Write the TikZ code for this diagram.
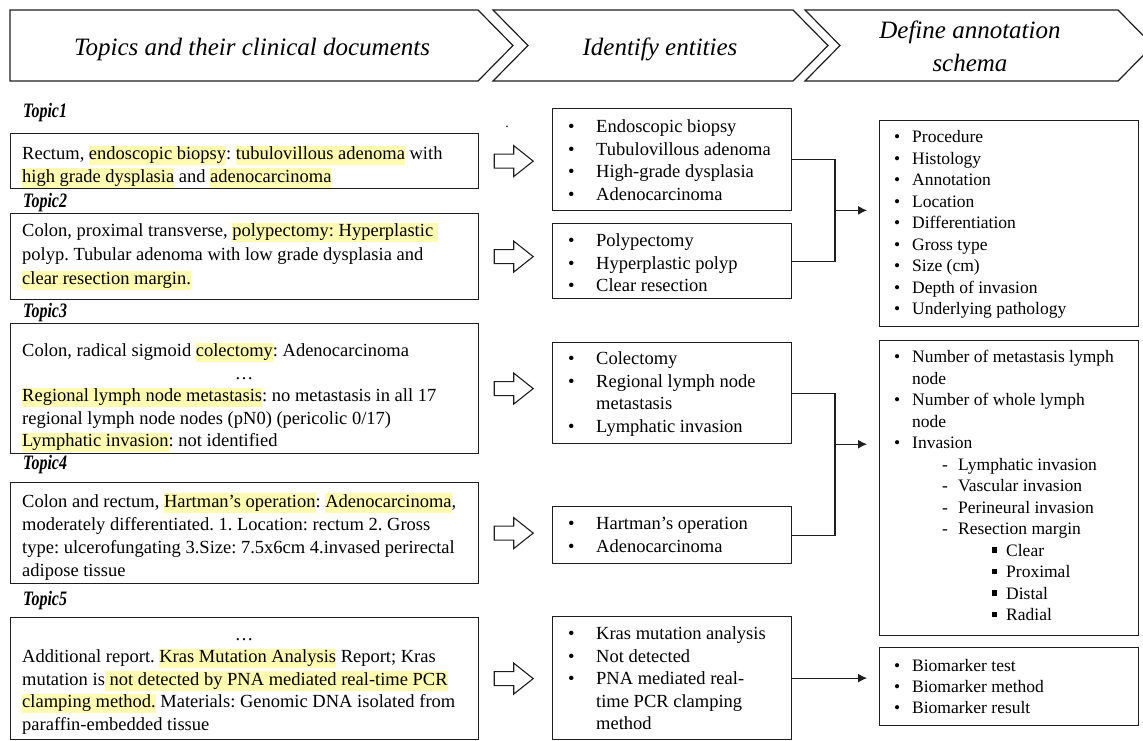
\documentclass[tikz,border=0pt]{standalone}
\usepackage{fontspec}
\setmainfont{Liberation Serif}
\usepackage{graphicx}
\usetikzlibrary{arrows.meta,calc}
\frenchspacing

\definecolor{hly}{RGB}{255,251,176}
\definecolor{ink}{RGB}{30,30,30}

% yellow marker behind annotated phrases
\newcommand{\hlt}[1]{{\setlength{\fboxsep}{0pt}\colorbox{hly}{\rule[-0.3em]{0pt}{1.05em}#1}}}
% condensed bold-italic topic captions
\newcommand{\topiclabel}[1]{\scalebox{0.78}[1]{\bfseries\itshape #1}}
% list markers
\newcommand{\midbullet}{\makebox[28pt][l]{\textbullet}}
\newcommand{\schbullet}{\makebox[18pt][l]{\textbullet}}
\newcommand{\schdash}{\hspace*{48pt}\makebox[16pt][l]{-}}
\newcommand{\schsquare}{\hspace*{98pt}\makebox[14pt][l]{\raisebox{0.2em}{\rule{0.3em}{0.3em}}}}

\begin{document}
\begin{tikzpicture}[x=1pt,y=-1pt,
  boxline/.style={draw=ink, line width=1.2pt},
  box/.style={boxline, anchor=north west, inner sep=0pt},
  doctext/.style={anchor=north west, inner sep=0pt, align=left,
                  font=\fontsize{18.5}{#1}\selectfont},
  doctext/.default=22.5,
  enttext/.style={anchor=north west, inner sep=0pt, align=left,
                  font=\fontsize{18.5}{22.5}\selectfont},
  schtext/.style={anchor=north west, inner sep=0pt, align=left,
                  font=\fontsize{17.5}{#1}\selectfont},
  schtext/.default=21.5,
  topic/.style={anchor=base west, inner sep=0pt, font=\fontsize{20.5}{24}\selectfont},
  headtext/.style={inner sep=0pt, font=\fontsize{25}{33}\selectfont\itshape},
  conn/.style={draw=ink, line width=1.2pt},
  arr/.style={conn, -{Latex[length=9pt,width=9pt]}, shorten >=12pt},
  hollowarrow/.pic={
    \draw[draw=ink, line width=1.1pt]
      (0,-7) -- (19.5,-7) -- (19.5,-15.5) -- (39,0) -- (19.5,15.5) -- (19.5,7) -- (0,7) -- cycle;
  }
]
\useasboundingbox (0,0) rectangle (1143,740);

% ---- process header -------------------------------------------------
\draw[boxline] (10,10) -- (478,10) -- (513,45.5) -- (478,81) -- (10,81) -- cycle;
\draw[boxline] (493,10) -- (793,10) -- (828,45.5) -- (793,81) -- (493,81) -- (528,45.5) -- cycle;
\draw[boxline] (805,10) -- (1118,10) -- (1153,45.5) -- (1118,81) -- (805,81) -- (840,45.5) -- cycle;
\node[headtext, anchor=base] (h1) at (252,55) {Topics and their clinical documents};
\node[headtext, anchor=base] (h2) at (660,55) {Identify entities};
\node[headtext, anchor=north, align=center] (h3) at (970,15.4) {\strut Define annotation\\schema};

% ---- clinical documents ---------------------------------------------
\node[topic] (l1) at (23,117) {\topiclabel{Topic1}};
\node[topic] (l2) at (23,207) {\topiclabel{Topic2}};
\node[topic] (l3) at (23,317) {\topiclabel{Topic3}};
\node[topic] (l4) at (23,469) {\topiclabel{Topic4}};
\node[topic] (l5) at (23,605) {\topiclabel{Topic5}};

\node[box, minimum width=468, minimum height=55]  (b1) at (10,133) {};
\node[box, minimum width=468, minimum height=86]  (b2) at (10,213) {};
\node[box, minimum width=468, minimum height=130] (b3) at (10,323) {};
\node[box, minimum width=468, minimum height=101] (b4) at (10,482) {};
\node[box, minimum width=468, minimum height=122] (b5) at (10,617) {};

\node[doctext] (d1) at (22,143.75) {\strut Rectum, \hlt{endoscopic biopsy}: \hlt{tubulovillous adenoma} with\\
  \hlt{high grade dysplasia} and \hlt{adenocarcinoma}};
\node[doctext=24] (d2) at (22,219.7) {\strut Colon, proximal transverse, \hlt{polypectomy: Hyperplastic }\\
  polyp. Tubular adenoma with low grade dysplasia and\\
  \hlt{clear resection margin.}};
\node[doctext] (d3) at (22,340.75) {\strut Colon, radical sigmoid \hlt{colectomy}: Adenocarcinoma\\
  \makebox[444pt]{…}\\
  \hlt{Regional lymph node metastasis}: no metastasis in all 17\\
  regional lymph node nodes (pN0) (pericolic 0/17)\\
  \hlt{Lymphatic invasion}: not identified};
\node[doctext=23] (d4) at (22,490.9) {\strut Colon and rectum, \hlt{Hartman’s operation}: \hlt{Adenocarcinoma},\\
  moderately differentiated. 1. Location: rectum 2. Gross\\
  type: ulcerofungating 3.Size: 7.5x6cm 4.invased perirectal\\
  adipose tissue};
\node[doctext] (d5) at (22,624.25) {\strut\makebox[444pt]{…}\\
  Additional report. \hlt{Kras Mutation Analysis} Report; Kras\\
  mutation is\hlt{ not detected by PNA mediated real-time PCR}\\
  \hlt{clamping method.} Materials: Genomic DNA isolated from\\
  paraffin-embedded tissue};

\node[inner sep=0pt, font=\fontsize{14}{16}\selectfont] (dot) at (507,127) {.};

% ---- block arrows between columns ----------------------------------
\pic at ($(b1.east)+(15,0)$) {hollowarrow};
\pic at ($(b2.east)+(15,0)$) {hollowarrow};
\pic at ($(b3.east)+(15,0)$) {hollowarrow};
\pic at ($(b4.east)+(15,0)$) {hollowarrow};
\pic at ($(b5.east)+(15,0)$) {hollowarrow};

% ---- identified entities --------------------------------------------
\node[box, minimum width=239, minimum height=102] (m1) at (552,108) {};
\node[box, minimum width=239, minimum height=75]  (m2) at (552,223) {};
\node[box, minimum width=239, minimum height=101] (m3) at (552,342) {};
\node[box, minimum width=239, minimum height=57]  (m4) at (552,506) {};
\node[box, minimum width=239, minimum height=123] (m5) at (552,616) {};

\node[enttext] (e1) at (568,116.75) {\strut\midbullet Endoscopic biopsy\\
  \midbullet Tubulovillous adenoma\\
  \midbullet High-grade dysplasia\\
  \midbullet Adenocarcinoma};
\node[enttext] (e2) at (568,230.75) {\strut\midbullet Polypectomy\\
  \midbullet Hyperplastic polyp\\
  \midbullet Clear resection};
\node[enttext] (e3) at (568,348.75) {\strut\midbullet Colectomy\\
  \midbullet Regional lymph node\\
  \hspace*{28pt}metastasis\\
  \midbullet Lymphatic invasion};
\node[enttext] (e4) at (568,513.75) {\strut\midbullet Hartman’s operation\\
  \midbullet Adenocarcinoma};
\node[enttext] (e5) at (568,623.75) {\strut\midbullet Kras mutation analysis\\
  \midbullet Not detected\\
  \midbullet PNA mediated real-\\
  \hspace*{28pt}time PCR clamping\\
  \hspace*{28pt}method};

% ---- annotation schema ----------------------------------------------
\node[box, minimum width=259, minimum height=206] (r1) at (879,120) {};
\node[box, minimum width=259, minimum height=295] (r2) at (879,340) {};
\node[box, minimum width=259, minimum height=78]  (r3) at (879,647) {};

\node[schtext] (s1) at (894,127.45) {\strut\schbullet Procedure\\
  \schbullet Histology\\
  \schbullet Annotation\\
  \schbullet Location\\
  \schbullet Differentiation\\
  \schbullet Gross type\\
  \schbullet Size (cm)\\
  \schbullet Depth of invasion\\
  \schbullet Underlying pathology};
\node[schtext] (s2) at (894,347.45) {\strut\schbullet Number of metastasis lymph\\
  \hspace*{18pt}node\\
  \schbullet Number of whole lymph\\
  \hspace*{18pt}node\\
  \schbullet Invasion\\
  \schdash Lymphatic invasion\\
  \schdash Vascular invasion\\
  \schdash Perineural invasion\\
  \schdash Resection margin\\
  \schsquare Clear\\
  \schsquare Proximal\\
  \schsquare Distal\\
  \schsquare Radial};
\node[schtext=21] (s3) at (894,656.3) {\strut\schbullet Biomarker test\\
  \schbullet Biomarker method\\
  \schbullet Biomarker result};

% ---- connectors -----------------------------------------------------
\coordinate (bus) at (835,0);
\draw[conn] (m1.east) -- (m1.east -| bus) -- (m2.east -| bus) -- (m2.east);
\coordinate (j1) at ($(m1.east -| bus)!0.5!(m2.east -| bus)$);
\draw[arr] (j1) -- (j1 -| r1.west);

\draw[conn] (m3.east) -- (m3.east -| bus) -- (m4.east -| bus) -- (m4.east);
\coordinate (j2) at (bus |- m3.south);
\draw[arr] (j2) -- (j2 -| r2.west);

\draw[arr] (m5.east) -- (m5.east -| r3.west);
\end{tikzpicture}
\end{document}
